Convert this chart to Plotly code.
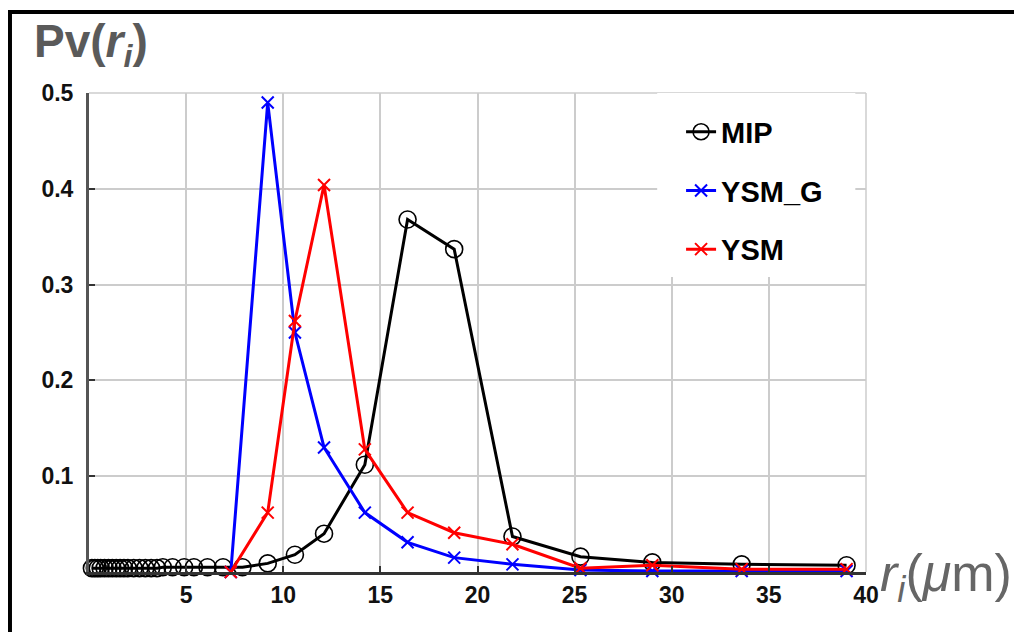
import plotly.graph_objects as go

# ---- data ----
mip_x = [0.15, 0.3, 0.45, 0.6, 0.8, 1.0, 1.2, 1.4, 1.6, 1.8, 2.0, 2.3, 2.6, 2.9, 3.2, 3.5,
         3.8, 4.3, 4.9, 5.4, 6.1, 6.9, 7.9, 9.2, 10.6, 12.1, 14.2, 16.4, 18.8, 21.8, 25.3,
         29.0, 33.6, 39.0]
mip_y = [0.004, 0.004, 0.004, 0.004, 0.004, 0.004, 0.004, 0.004, 0.004, 0.004, 0.004, 0.004,
         0.004, 0.004, 0.004, 0.004, 0.005, 0.005, 0.005, 0.005, 0.005, 0.005, 0.005, 0.009,
         0.018, 0.040, 0.112, 0.368, 0.337, 0.037, 0.016, 0.010, 0.008, 0.007]

ysmg_x = [7.3, 9.2, 10.6, 12.1, 14.2, 16.4, 18.8, 21.8, 25.3, 29.0, 33.6, 39.0]
ysmg_y = [0.0, 0.490, 0.250, 0.130, 0.062, 0.031, 0.015, 0.008, 0.002, 0.001, 0.001, 0.001]

ysm_x = [7.3, 9.2, 10.6, 12.1, 14.2, 16.4, 18.8, 21.8, 25.3, 29.0, 33.6, 39.0]
ysm_y = [0.0, 0.062, 0.262, 0.404, 0.128, 0.062, 0.041, 0.029, 0.004, 0.007, 0.003, 0.003]

x_ticks = [5, 10, 15, 20, 25, 30, 35, 40]
y_ticks = [0.1, 0.2, 0.3, 0.4, 0.5]

FONT = "Liberation Sans, Arial, sans-serif"

fig = go.Figure()
fig.add_trace(go.Scatter(
    x=mip_x, y=mip_y, name="MIP", mode="lines+markers", legendgroup="a",
    line=dict(color="black", width=3),
    marker=dict(symbol="circle-open", size=17, color="black", line=dict(width=1.6)),
    cliponaxis=False))
fig.add_trace(go.Scatter(
    x=ysmg_x, y=ysmg_y, name="YSM_G", mode="lines+markers", legendgroup="b",
    line=dict(color="#0000ff", width=3),
    marker=dict(symbol="x-thin", size=12, color="#0000ff", line=dict(width=2, color="#0000ff")),
    cliponaxis=False))
fig.add_trace(go.Scatter(
    x=ysm_x, y=ysm_y, name="YSM", mode="lines+markers", legendgroup="c",
    line=dict(color="#ff0000", width=3),
    marker=dict(symbol="x-thin", size=12, color="#ff0000", line=dict(width=2, color="#ff0000")),
    cliponaxis=False))

# white legend backdrop covering gridlines
fig.add_shape(type="rect", xref="x", yref="y", x0=29.25, x1=39.45, y0=0.308, y1=0.5,
              fillcolor="white", line=dict(width=0), layer="between")

# outer black frame
fig.add_shape(type="rect", xref="paper", yref="paper", x0=-0.1017, x1=1.3, y0=-0.3, y1=1.169,
              line=dict(color="black", width=4), fillcolor="rgba(0,0,0,0)", layer="above")

fig.add_annotation(xref="paper", yref="paper", x=-0.074, y=1.035, xanchor="left", yanchor="bottom",
                   text="<b>Pv(<i>r<sub>i</sub></i>)</b>", showarrow=False,
                   font=dict(family=FONT, size=46, color="#5a5a5a"))
fig.add_annotation(xref="paper", yref="paper", x=1.016, y=-0.01, xanchor="left", yanchor="middle",
                   text="<i>r<sub>i</sub></i>(<i>μ</i>m)", showarrow=False,
                   font=dict(family=FONT, size=52, color="#666666"))

fig.update_layout(
    width=1014, height=624,
    margin=dict(l=81, r=156, t=85, b=60),
    paper_bgcolor="white", plot_bgcolor="white",
    font=dict(family=FONT, color="black"),
    legend=dict(x=0.762, y=0.972, xanchor="left", yanchor="top",
                bgcolor="rgba(0,0,0,0)", traceorder="grouped", tracegroupgap=18,
                font=dict(family=FONT, size=29, color="black", weight="bold")),
)
fig.update_xaxes(range=[0, 40], tickvals=x_ticks, ticktext=[str(v) for v in x_ticks],
                 showgrid=True, gridcolor="#cccccc", gridwidth=1.5,
                 showline=True, linecolor="#333333", linewidth=3,
                 ticks="inside", ticklen=6, tickcolor="#333333", tickwidth=1.5,
                 tickfont=dict(family=FONT, size=23, color="#111111", weight="bold"),
                 zeroline=False)
fig.update_yaxes(range=[0, 0.5], tickvals=y_ticks, ticktext=["0.1", "0.2", "0.3", "0.4", "0.5"],
                 showgrid=True, gridcolor="#cccccc", gridwidth=1.5,
                 showline=True, linecolor="#555555", linewidth=3,
                 ticks="inside", ticklen=6, tickcolor="#333333", tickwidth=1.5,
                 ticklabelstandoff=8,
                 tickfont=dict(family=FONT, size=23, color="#111111", weight="bold"),
                 zeroline=False)

# top and right frame (light gray)
fig.add_shape(type="line", xref="paper", yref="paper", x0=0, x1=1, y0=1, y1=1,
              line=dict(color="#cccccc", width=1.5), layer="between")
fig.add_shape(type="line", xref="paper", yref="paper", x0=1, x1=1, y0=0, y1=1,
              line=dict(color="#cccccc", width=1.5), layer="between")

fig.write_html("out.html")
